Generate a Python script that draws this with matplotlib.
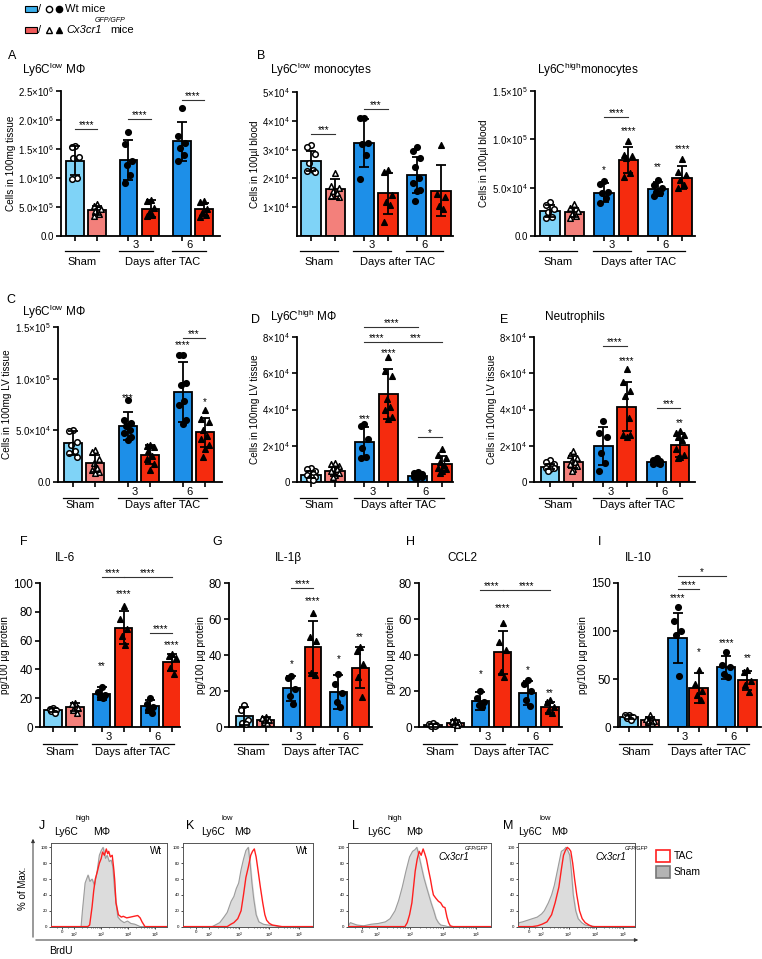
import numpy as np
import matplotlib
matplotlib.use('Agg')
import matplotlib.pyplot as plt
from matplotlib import transforms
from matplotlib.patches import Rectangle, FancyArrowPatch
from matplotlib.lines import Line2D

plt.rcParams['font.family'] = ['Liberation Sans', 'DejaVu Sans']
plt.rcParams['mathtext.fontset'] = 'custom'
plt.rcParams['mathtext.rm'] = 'Liberation Sans'
plt.rcParams['mathtext.it'] = 'Liberation Sans:italic'
plt.rcParams['mathtext.default'] = 'regular'

W, H = 762, 959

C_SHAM_WT = '#7fd3f7'
C_SHAM_KO = '#f3807b'
C_WT = '#1d8fe8'
C_KO = '#f52b0e'

# ---------------- data (bar order: Sham Wt, Sham KO, 3d Wt, 3d KO, 6d Wt, 6d KO)
# A: Ly6C low MPhi, cells in 100mg tissue (x1e6)
a_mean = [1.30, 0.44, 1.31, 0.47, 1.63, 0.46]
a_sd = [0.25, 0.07, 0.34, 0.15, 0.33, 0.11]
a_pts = [[1.56, 1.53, 1.36, 1.35, 1.00, 0.99], [0.56, 0.51, 0.46, 0.43, 0.38, 0.34],
         [1.80, 1.58, 1.30, 1.22, 1.06, 0.92], [0.62, 0.60, 0.48, 0.40, 0.36, 0.35],
         [2.21, 1.72, 1.60, 1.52, 1.40, 1.30], [0.60, 0.58, 0.46, 0.40, 0.36, 0.33]]
a_stars = []
a_brackets = [(0, 1, '****', 1.84), (2, 3, '****', 2.02), (4, 5, '****', 2.34)]

# B: Ly6C low monocytes, cells in 100ul blood (x1e4)
b_mean = [2.60, 1.62, 3.24, 1.48, 2.12, 1.57]
b_sd = [0.35, 0.35, 0.83, 0.70, 0.62, 0.88]
b_pts = [[3.17, 3.10, 2.85, 2.55, 2.30, 2.25, 2.22], [2.20, 1.75, 1.65, 1.55, 1.48, 1.40, 1.35],
         [4.11, 4.11, 3.21, 3.24, 2.80, 1.97], [2.29, 2.23, 1.44, 1.19, 1.07, 0.50],
         [3.10, 2.95, 2.70, 2.40, 2.00, 1.85, 1.60, 1.55, 1.20], [3.15, 1.45, 1.35, 1.05, 0.95]]
b_stars = []
b_brackets = [(0, 1, '***', 3.53), (2, 3, '***', 4.42)]

# B': Ly6C high monocytes, cells in 100ul blood (x1e4)
b2_mean = [2.60, 2.45, 4.50, 7.85, 4.85, 6.05]
b2_sd = [0.60, 0.45, 1.00, 1.35, 0.75, 1.20]
b2_pts = [[3.50, 3.20, 2.80, 2.45, 2.00, 1.85], [3.30, 2.90, 2.60, 2.30, 2.10, 1.90],
          [5.70, 5.40, 4.60, 4.50, 3.90, 3.40], [9.80, 8.36, 8.30, 8.08, 6.47, 6.12],
          [5.75, 5.30, 5.00, 4.55, 4.40, 4.15], [8.00, 6.60, 6.30, 5.80, 5.30, 5.00]]
b2_stars = [(2, '*', 7.05), (3, '****', 11.1), (4, '**', 7.3), (5, '****', 9.2)]
b2_brackets = [(2, 3, '****', 12.3)]

# C: Ly6C low MPhi, cells in 100mg LV tissue (x1e4)
c_mean = [3.80, 1.80, 5.40, 2.65, 8.70, 4.80]
c_sd = [1.15, 0.85, 1.35, 0.95, 2.90, 1.40]
c_pts = [[5.00, 4.95, 3.90, 3.60, 3.00, 2.80, 2.40], [3.10, 2.90, 2.20, 1.80, 1.40, 1.20, 1.00, 0.90],
         [7.90, 6.00, 5.70, 5.40, 5.00, 4.70, 4.40, 4.10], [3.60, 3.50, 3.40, 3.00, 2.50, 2.20, 1.70, 1.20],
         [12.3, 12.3, 9.6, 9.4, 7.80, 7.50, 6.00, 5.60], [7.00, 6.10, 5.80, 5.00, 4.50, 4.20, 3.60, 3.20, 2.40]]
c_stars = [(2, '***', 8.3), (4, '****', 13.4), (5, '*', 7.9)]
c_brackets = [(4, 5, '***', 13.9)]

# D: Ly6C high MPhi, cells in 100mg LV tissue (x1e4)
d_mean = [0.40, 0.60, 2.20, 4.85, 0.35, 1.00]
d_sd = [0.20, 0.25, 0.85, 1.40, 0.10, 0.42]
d_pts = [[0.75, 0.70, 0.60, 0.50, 0.45, 0.40, 0.30, 0.25, 0.15, 0.10],
         [1.05, 1.00, 0.90, 0.80, 0.70, 0.60, 0.50, 0.40, 0.30],
         [3.20, 3.10, 2.40, 1.90, 1.40, 1.30], [6.90, 6.10, 5.85, 4.60, 4.15, 3.95, 3.60, 3.45],
         [0.55, 0.50, 0.45, 0.40, 0.35, 0.30, 0.30, 0.25, 0.20],
         [1.80, 1.50, 1.30, 1.10, 0.95, 0.80, 0.70, 0.60, 0.50]]
d_stars = [(2, '***', 3.6), (3, '****', 7.25)]
d_brackets = [(2, 3, '****', 7.74), (3, 5, '***', 7.74), (2, 4, '****', 8.57), (4, 5, '*', 2.5)]

# E: neutrophils, cells in 100mg LV tissue (x1e4)
e_mean = [0.85, 1.10, 1.97, 4.15, 1.12, 2.05]
e_sd = [0.15, 0.33, 1.05, 1.35, 0.08, 0.65]
e_pts = [[1.20, 1.10, 1.00, 0.90, 0.85, 0.80, 0.75, 0.70, 0.60],
         [1.70, 1.50, 1.35, 1.20, 1.10, 1.00, 0.90, 0.70, 0.60],
         [3.35, 2.70, 2.50, 1.60, 1.05, 0.60], [6.23, 5.50, 5.00, 4.72, 3.52, 2.60, 2.50, 2.60],
         [1.30, 1.20, 1.15, 1.10, 1.05, 1.00, 1.00], [2.80, 2.70, 2.60, 2.50, 2.30, 1.80, 1.50, 1.40, 1.30]]
e_stars = [(3, '****', 6.78), (5, '**', 3.34)]
e_brackets = [(2, 3, '****', 7.48), (4, 5, '***', 4.07)]

# F-I: cytokines, pg/100 ug protein
f_mean = [12.0, 14.0, 23.0, 69.0, 14.5, 45.0]
f_sd = [1.5, 3.0, 4.5, 11.5, 4.5, 6.0]
f_pts = [[13, 12.5, 12, 11, 10], [17, 16, 13, 12, 10], [28, 24, 22, 21, 20],
         [84, 75, 68, 63, 57], [20, 16, 14, 12, 10], [51, 49, 48, 41, 37]]
f_stars = [(2, '**', 44), (3, '****', 94), (5, '****', 58.5)]
f_brackets = [(2, 3, '****', 104), (3, 5, '****', 104), (4, 5, '****', 65.5)]

g_mean = [6.0, 4.0, 21.5, 44.5, 19.5, 33.0]
g_sd = [5.0, 1.5, 7.0, 14.5, 9.5, 11.5]
g_pts = [[12, 9.5, 4, 2.5, 1.5], [5.5, 5, 4, 3, 2.5], [28.5, 27.5, 21, 17, 13],
         [63.5, 50, 48, 30, 29], [29.5, 24, 19, 14, 11], [44.5, 42, 35, 28, 16.5]]
g_stars = [(2, '*', 36), (3, '****', 71), (4, '*', 39), (5, '**', 51)]
g_brackets = [(2, 3, '****', 77)]

h_mean = [1.0, 2.5, 14.5, 41.5, 19.0, 11.0]
h_sd = [0.8, 1.2, 5.0, 12.0, 6.5, 3.0]
h_pts = [[2, 1.5, 1, 0.5, 0.3], [4, 3.5, 2.5, 1.5, 1.2], [20, 16, 14, 12, 11],
         [58, 47, 42.6, 30.5, 27.8], [26, 24, 20, 15, 11.5], [15, 14, 11, 9, 8]]
h_stars = [(2, '*', 30.5), (3, '****', 67), (4, '*', 33), (5, '**', 20)]
h_brackets = [(2, 3, '****', 76), (3, 5, '****', 76)]

i_mean = [10.0, 7.0, 93.0, 41.0, 62.0, 48.5]
i_sd = [2.0, 3.5, 26.0, 15.5, 12.0, 9.5]
i_pts = [[13, 12, 10, 9, 7], [13, 8, 6, 5, 4], [125, 110, 100, 96, 53],
         [59, 45, 38, 33, 28], [78, 65, 63, 55, 52], [59, 57, 48, 44, 36]]
i_stars = [(2, '****', 136), (3, '*', 80), (4, '****', 89), (5, '**', 74)]
i_brackets = [(2, 3, '****', 144), (2, 4, '*', 157)]

# J-M: BrdU histograms (x = decades on biexponential axis, y = % of max)
j_sham_x = [1.13, 2.25, 2.30, 2.40, 2.51, 2.58, 2.66, 2.75, 2.84, 2.93, 3.00, 3.07, 3.12, 3.16, 3.22,
            3.30, 3.37, 3.43, 3.49, 3.55, 3.62, 3.72, 3.85, 3.98, 4.10, 4.25, 4.45, 5.45]
j_sham_y = [0, 0, 20, 55, 65, 57, 60, 52, 68, 90, 96, 100, 92, 86, 90, 82, 84, 76, 50, 30, 12, 8,
            5, 7, 4, 3, 0, 0]
j_tac_x = [1.13, 2.50, 2.57, 2.66, 2.72, 2.78, 2.86, 2.93, 3.00, 3.05, 3.12, 3.19, 3.24, 3.28, 3.34,
           3.41, 3.46, 3.50, 3.55, 3.64, 3.75, 3.82, 3.95, 4.09, 4.22, 4.36, 4.45, 4.52, 4.63, 5.45]
j_tac_y = [0, 0, 2, 25, 45, 60, 70, 80, 86, 94, 90, 98, 92, 95, 88, 90, 75, 60, 30, 15, 12, 13, 11,
           12, 13, 14, 11, 6, 0, 0]
k_sham_x = [1.13, 2.10, 2.20, 2.35, 2.49, 2.60, 2.73, 2.82, 2.90, 2.98, 3.06, 3.14, 3.22, 3.30, 3.36,
            3.42, 3.48, 3.56, 3.65, 3.80, 3.95, 4.20, 4.30, 5.45]
k_sham_y = [0, 0, 2, 5, 12, 18, 32, 38, 48, 55, 72, 85, 96, 100, 80, 55, 35, 15, 6, 3, 2, 1, 0, 0]
k_tac_x = [1.13, 2.60, 2.72, 2.82, 2.95, 3.06, 3.14, 3.22, 3.30, 3.38, 3.44, 3.50, 3.56, 3.62,
           3.70, 3.78, 3.85, 3.91, 4.00, 4.10, 4.42, 5.45]
k_tac_y = [0, 0, 3, 5, 10, 20, 40, 62, 75, 90, 95, 98, 88, 72, 50, 30, 15, 8, 4, 2, 0, 0]
l_sham_x = [1.13, 1.20, 1.40, 1.60, 1.83, 2.05, 2.26, 2.40, 2.55, 2.66, 2.77, 2.88, 2.99, 3.08,
            3.15, 3.21, 3.28, 3.35, 3.42, 3.50, 3.57, 3.64, 3.72, 3.79, 3.86, 3.93, 4.05, 4.15, 5.45]
l_sham_y = [0, 5, 2, 1, 3, 4, 6, 10, 20, 33, 50, 70, 88, 95, 97, 100, 88, 75, 62, 50, 40, 30, 20,
            10, 5, 2, 1, 0, 0]
l_tac_x = [1.13, 2.85, 2.92, 2.99, 3.06, 3.11, 3.16, 3.22, 3.28, 3.34, 3.40, 3.45, 3.50, 3.56,
           3.62, 3.67, 3.71, 3.78, 3.86, 3.93, 4.00, 4.06, 4.12, 4.17, 4.22, 4.30, 5.45]
l_tac_y = [0, 0, 5, 15, 30, 50, 70, 85, 95, 90, 98, 92, 85, 72, 60, 48, 40, 36, 32, 30, 25, 24, 12,
           5, 1, 0, 0]
m_sham_x = [1.13, 1.17, 1.30, 1.48, 1.66, 1.84, 2.00, 2.10, 2.25, 2.37, 2.47, 2.55, 2.64, 2.73,
            2.82, 2.90, 2.98, 3.04, 3.10, 3.17, 3.26, 3.35, 3.48, 3.61, 3.80, 3.97, 5.45]
m_sham_y = [0, 5, 6, 8, 10, 12, 16, 20, 30, 40, 52, 65, 80, 95, 97, 100, 95, 90, 70, 40, 20, 10, 5,
            2, 1, 0, 0]
m_tac_x = [1.13, 1.66, 1.85, 2.02, 2.20, 2.37, 2.50, 2.64, 2.73, 2.81, 2.88, 2.95, 3.02, 3.08,
           3.15, 3.22, 3.30, 3.40, 3.50, 3.61, 3.75, 3.88, 5.45]
m_tac_y = [0, 0, 1, 3, 6, 15, 30, 50, 72, 90, 96, 100, 98, 95, 80, 60, 40, 20, 10, 5, 2, 0, 0]

flow_ticks = [1.55, 2, 3, 4, 5]
flow_ticklabels = ['0', '10$^{2}$', '10$^{3}$', '10$^{4}$', '10$^{5}$']

fig = plt.figure(figsize=(W / 100, H / 100), dpi=100)


def add_ax(l, t, r, b):
    return fig.add_axes([l / W, 1 - b / H, (r - l) / W, (b - t) / H])


def ftext(x, y, s, **kw):
    kw.setdefault('va', 'center')
    fig.text(x / W, 1 - y / H, s, **kw)


def swarm(vals, spread):
    order = np.argsort(vals)[::-1]
    offs = np.zeros(len(vals))
    pattern = [0, -1, 1, -0.5, 0.5, -1, 1, 0, -0.5, 0.5]
    for k, i in enumerate(order):
        offs[i] = pattern[k % len(pattern)] * spread
    return offs


def bar_panel(ax, mean, sd, pts, stars, brackets, scale, ylim, yticks, yticklabels, ylabel,
              gap, pad, under, width=0.8, tick_fs=7):
    pos = np.array([0, 1, 1 + gap, 2 + gap, 2 + 2 * gap, 3 + 2 * gap])
    colors = [C_SHAM_WT, C_SHAM_KO, C_WT, C_KO, C_WT, C_KO]
    mean = np.asarray(mean) * scale
    sd = np.asarray(sd) * scale
    ax.bar(pos, mean, width, color=colors, edgecolor='black', linewidth=1.3, zorder=2)
    markers = ['o', '^', 'o', '^', 'o', '^']
    for i in range(6):
        v = np.asarray(pts[i]) * scale
        face = 'white' if i < 2 else 'black'
        ax.scatter(pos[i] + swarm(v, 0.2 * width), v, marker=markers[i], s=16,
                   facecolor=face, edgecolor='black', linewidths=1.1, zorder=5, clip_on=False)
    ax.errorbar(pos, mean, yerr=sd, fmt='none', ecolor='black', elinewidth=1.3,
                capsize=3.5, capthick=1.3, zorder=6)
    for i, s, y in stars:
        ax.annotate(s, (pos[i], y * scale), xytext=(0, -2), textcoords='offset pixels',
                    ha='center', va='center', fontsize=7, annotation_clip=False)
    for i, j, s, y in brackets:
        ax.plot([pos[i], pos[j]], [y * scale] * 2, color='#333333', lw=0.8, clip_on=False)
        ax.annotate(s, ((pos[i] + pos[j]) / 2, y * scale), xytext=(0, 4),
                    textcoords='offset pixels', ha='center', va='center', fontsize=7,
                    annotation_clip=False)
    ax.set_xlim(pos[0] - pad[0], pos[-1] + pad[1])
    ax.set_ylim(ylim[0] * scale, ylim[1] * scale)
    ax.set_yticks(np.asarray(yticks) * scale)
    ax.set_yticklabels(yticklabels, fontsize=tick_fs)
    ax.set_xticks(pos)
    ax.set_xticklabels([])
    ax.set_ylabel(ylabel, fontsize=7.2, labelpad=2)
    for side in ['top', 'right']:
        ax.spines[side].set_visible(False)
    for side in ['left', 'bottom']:
        ax.spines[side].set_linewidth(1.3)
    ax.tick_params(axis='both', length=3.5, width=1.2, pad=1.5)
    # grouping lines under the axis
    trans = transforms.blended_transform_factory(ax.transData, ax.transAxes)
    h_px = ax.get_position().height * H
    num_off, line_off, word_off = under
    centers = []
    for k in range(3):
        x0, x1 = pos[2 * k] - 0.45, pos[2 * k + 1] + 0.1
        ax.plot([x0, x1], [-line_off / h_px] * 2, transform=trans, clip_on=False,
                color='black', lw=0.9)
        centers.append((x0 + x1) / 2)
    for k, s in [(1, '3'), (2, '6')]:
        ax.text(centers[k], -num_off / h_px, s, transform=trans, ha='center', va='center',
                fontsize=8)
    ax.text(centers[0], -word_off / h_px, 'Sham', transform=trans, ha='center',
            va='center', fontsize=8)
    ax.text((centers[1] + centers[2]) / 2, -word_off / h_px, 'Days after TAC',
            transform=trans, ha='center', va='center', fontsize=8)


def flow_panel(ax, sx, sy, tx, ty):
    ax.fill_between(sx, sy, color='#dcdcdc', zorder=1)
    ax.plot(sx, sy, color='#9c9c9c', lw=0.8, zorder=2)
    ax.plot(tx, ty, color='#ff1f1f', lw=1.0, zorder=3)
    ax.set_xlim(1.13, 5.45)
    ax.set_ylim(-0.5, 105.5)
    ax.set_yticks([0, 20, 40, 60, 80, 100])
    ax.set_yticklabels(['0', '20', '40', '60', '80', '100'], fontsize=3.2)
    ax.set_xticks(flow_ticks)
    ax.set_xticklabels(flow_ticklabels, fontsize=3.2)
    minor = [1.35, 1.75] + [d + np.log10(k) for d in (2, 3, 4) for k in range(2, 10)]
    ax.set_xticks(minor, minor=True)
    ax.tick_params(axis='both', length=1.5, width=0.5, pad=1)
    ax.tick_params(axis='x', which='minor', length=1, width=0.4)
    for sp in ax.spines.values():
        sp.set_linewidth(0.7)
        sp.set_color('#555555')


# ---------------- top legend
fig.add_artist(Rectangle((25 / W, 1 - 12 / H), 12 / W, 6 / H, transform=fig.transFigure,
                         facecolor='#3aaeea', edgecolor='black', lw=0.8))
fig.add_artist(Rectangle((25 / W, 1 - 33 / H), 12 / W, 6 / H, transform=fig.transFigure,
                         facecolor='#f05a5a', edgecolor='black', lw=0.8))
ftext(38, 9, '/', fontsize=8)
ftext(38, 30, '/', fontsize=8)
for x, y, m, fc in [(48.5, 9, 'o', 'white'), (59, 9, 'o', 'black'),
                    (48.5, 30, '^', 'white'), (59, 30, '^', 'black')]:
    fig.add_artist(Line2D([x / W], [1 - y / H], transform=fig.transFigure, marker=m,
                          markersize=4.5, markerfacecolor=fc, markeredgecolor='black',
                          markeredgewidth=1.0, linestyle='none'))
ftext(65, 9, 'Wt mice', fontsize=8)
ftext(66, 30, 'Cx3cr1', fontsize=8, style='italic')
ftext(95, 21, 'GFP/GFP', fontsize=5, style='italic')
ftext(110, 30, 'mice', fontsize=8)

# ---------------- row 1
row1 = (9, 15, 26)
ax = add_ax(61, 91, 220, 236)
bar_panel(ax, a_mean, a_sd, a_pts, a_stars, a_brackets, 1e6, (0, 2.5),
          [0, 0.5, 1.0, 1.5, 2.0, 2.5],
          ['0.0', '5.0×10$^{5}$', '1.0×10$^{6}$', '1.5×10$^{6}$', '2.0×10$^{6}$', '2.5×10$^{6}$'],
          'Cells in 100mg tissue', 1.42, (0.64, 0.73), row1)
ax = add_ax(297, 92, 453, 236)
bar_panel(ax, b_mean, b_sd, b_pts, b_stars, b_brackets, 1e4, (0, 5),
          [1, 2, 3, 4, 5], ['1×10$^{4}$', '2×10$^{4}$', '3×10$^{4}$', '4×10$^{4}$', '5×10$^{4}$'],
          'Cells in 100µl blood', 1.16, (0.57, 0.49), row1)
ax = add_ax(535, 91, 695, 236)
bar_panel(ax, b2_mean, b2_sd, b2_pts, b2_stars, b2_brackets, 1e4, (0, 15),
          [0, 5, 10, 15], ['0.0', '5.0×10$^{4}$', '1.0×10$^{5}$', '1.5×10$^{5}$'],
          'Cells in 100µl blood', 1.22, (0.62, 0.53), row1)
ftext(8, 56, 'A', fontsize=9)
ftext(22, 70, 'Ly6C$^{low}$ MΦ', fontsize=8.5)
ftext(257, 56, 'B', fontsize=9)
ftext(270, 70, 'Ly6C$^{low}$ monocytes', fontsize=8.5)
ftext(537, 70, 'Ly6C$^{high}$monocytes', fontsize=8.5)

# ---------------- row 2
row2 = (10, 16, 23)
ax = add_ax(58, 327, 222, 482)
bar_panel(ax, c_mean, c_sd, c_pts, c_stars, c_brackets, 1e4, (0, 15),
          [0, 5, 10, 15], ['0.0', '5.0×10$^{4}$', '1.0×10$^{5}$', '1.5×10$^{5}$'],
          'Cells in 100mg LV tissue', 1.45, (0.67, 0.76), row2)
ax = add_ax(297, 337, 453, 482)
bar_panel(ax, d_mean, d_sd, d_pts, d_stars, d_brackets, 1e4, (0, 8),
          [0, 2, 4, 6, 8], ['0', '2×10$^{4}$', '4×10$^{4}$', '6×10$^{4}$', '8×10$^{4}$'],
          'Cells in 100mg LV tissue', 1.22, (0.58, 0.46), row2)
ax = add_ax(534, 337, 695, 482)
bar_panel(ax, e_mean, e_sd, e_pts, e_stars, e_brackets, 1e4, (0, 8),
          [0, 2, 4, 6, 8], ['0', '2×10$^{4}$', '4×10$^{4}$', '6×10$^{4}$', '8×10$^{4}$'],
          'Cells in 100mg LV tissue', 1.27, (0.68, 0.64), row2)
ftext(6, 300, 'C', fontsize=9)
ftext(22, 312, 'Ly6C$^{low}$ MΦ', fontsize=8.5)
ftext(251, 320, 'D', fontsize=9)
ftext(270, 317, 'Ly6C$^{high}$ MΦ', fontsize=8.5)
ftext(500, 320, 'E', fontsize=9)
ftext(545, 317, 'Neutrophils', fontsize=8.5)

# ---------------- row 3
row3 = (10, 17, 25)
cyto = [(40, 180, f_mean, f_sd, f_pts, f_stars, f_brackets, (0, 100), [0, 20, 40, 60, 80, 100],
         1.2, (0.59, 0.36), 0.78),
        (229, 372, g_mean, g_sd, g_pts, g_stars, g_brackets, (0, 80), [0, 20, 40, 60, 80],
         1.18, (0.7, 0.55), 0.78),
        (419, 562, h_mean, h_sd, h_pts, h_stars, h_brackets, (0, 80), [0, 20, 40, 60, 80],
         1.12, (0.62, 0.53), 0.78),
        (618, 761, i_mean, i_sd, i_pts, i_stars, i_brackets, (0, 150), [0, 50, 100, 150],
         1.3, (0.52, 0.65), 0.88)]
for l, r, mn, sd, pts, st, br, yl, yt, gap, pad, wd in cyto:
    ax = add_ax(l, 583, r, 727)
    bar_panel(ax, mn, sd, pts, st, br, 1, yl, yt, [str(t) for t in yt], 'pg/100 µg protein',
              gap, pad, row3, width=wd, tick_fs=8.5)
for x, s in [(20, 'F'), (212, 'G'), (406, 'H'), (598, 'I')]:
    ftext(x, 542, s, fontsize=9)
for x, s in [(55, 'IL-6'), (275, 'IL-1β'), (447, 'CCL2'), (625, 'IL-10')]:
    ftext(x, 558, s, fontsize=8.5)

# ---------------- row 4: flow histograms
flows = [(51, 167, j_sham_x, j_sham_y, j_tac_x, j_tac_y),
         (183, 313, k_sham_x, k_sham_y, k_tac_x, k_tac_y),
         (348, 491, l_sham_x, l_sham_y, l_tac_x, l_tac_y),
         (518, 635, m_sham_x, m_sham_y, m_tac_x, m_tac_y)]
for l, r, sx, sy, tx, ty in flows:
    ax = add_ax(l, 843, r, 927)
    flow_panel(ax, sx, sy, tx, ty)

for x, s, sup in [(39, 'J', 'high'), (186, 'K', 'low'), (352, 'L', 'high'), (503, 'M', 'low')]:
    ftext(x, 826, s, fontsize=9)
    ftext(x + 15, 832, 'Ly6C', fontsize=7.5)
    ftext(x + 36, 819, sup, fontsize=5.5)
    ftext(x + 54 if sup == 'high' else x + 48, 832, 'MΦ', fontsize=7.5)
ftext(162, 851, 'Wt', fontsize=7, ha='right')
ftext(308, 851, 'Wt', fontsize=7, ha='right')
ftext(454, 857, 'Cx3cr1', fontsize=7, style='italic', ha='center')
ftext(476, 848, 'GFP/GFP', fontsize=3.8, style='italic', ha='center')
ftext(611, 857, 'Cx3cr1', fontsize=7, style='italic', ha='center')
ftext(636, 848, 'GFP/GFP', fontsize=3.8, style='italic', ha='center')

fig.add_artist(Rectangle((656 / W, 1 - 862 / H), 14 / W, 12 / H, transform=fig.transFigure,
                         facecolor='white', edgecolor='#ff1f1f', lw=1.2))
fig.add_artist(Rectangle((656 / W, 1 - 878 / H), 14 / W, 12 / H, transform=fig.transFigure,
                         facecolor='#b4b4b4', edgecolor='#777777', lw=1.2))
ftext(674, 856, 'TAC', fontsize=7.5)
ftext(674, 872, 'Sham', fontsize=7.5)

fig.add_artist(FancyArrowPatch((33 / W, 1 - 940 / H), (33 / W, 1 - 836 / H),
                               transform=fig.transFigure, arrowstyle='-|>',
                               mutation_scale=5, lw=0.7, color='#333333'))
fig.add_artist(FancyArrowPatch((33 / W, 1 - 940 / H), (641 / W, 1 - 940 / H),
                               transform=fig.transFigure, arrowstyle='-|>',
                               mutation_scale=5, lw=0.7, color='#333333'))
ftext(23, 888, '% of Max.', fontsize=7, rotation=90, ha='center')
ftext(49, 951, 'BrdU', fontsize=7.5)

fig.savefig('out.png', dpi=100)
